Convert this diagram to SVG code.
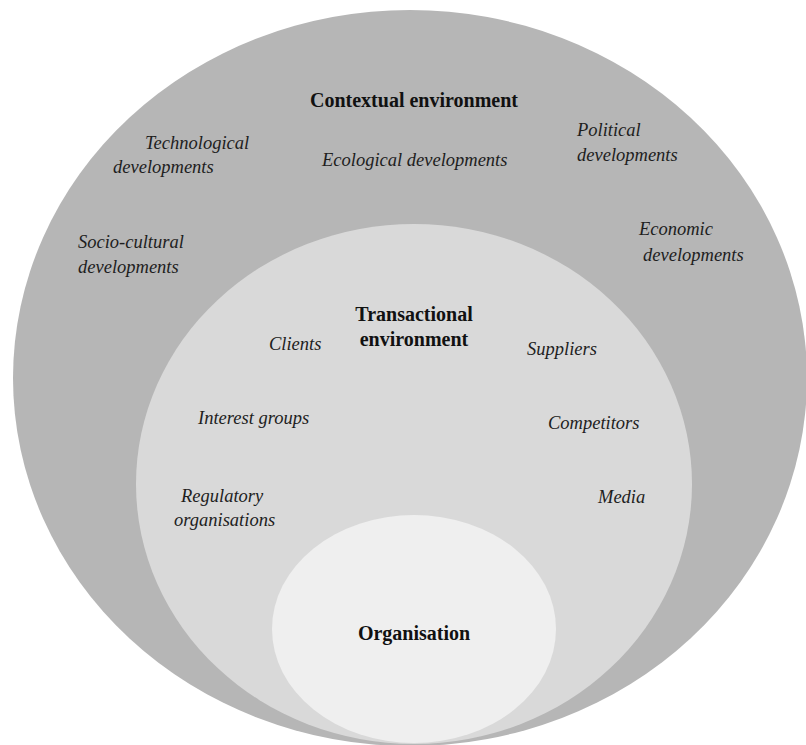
<svg xmlns="http://www.w3.org/2000/svg" width="806" height="745" viewBox="0 0 806 745">
  <style>
    .ring-outer { fill: #b6b6b6; }
    .ring-mid { fill: #d9d9d9; }
    .ring-core { fill: #efefef; }
    .title { font-family: "Liberation Serif", "Times New Roman", serif; font-weight: bold; font-size: 20px; fill: #111111; }
    .item { font-family: "Liberation Serif", "Times New Roman", serif; font-style: italic; font-size: 18.5px; fill: #1e1e1e; }
  </style>
  <rect width="806" height="745" fill="#ffffff"/>

  <!-- Contextual environment (outer layer) -->
  <g id="contextual">
    <ellipse class="ring-outer" cx="410" cy="378" rx="397" ry="368"/>
    <text class="title" x="414" y="107" text-anchor="middle">Contextual environment</text>
    <text class="item" x="145" y="149">Technological</text>
    <text class="item" x="113" y="173">developments</text>
    <text class="item" x="322" y="166">Ecological developments</text>
    <text class="item" x="577" y="136">Political</text>
    <text class="item" x="577" y="161">developments</text>
    <text class="item" x="78" y="248">Socio-cultural</text>
    <text class="item" x="78" y="273">developments</text>
    <text class="item" x="639" y="235">Economic</text>
    <text class="item" x="643" y="261">developments</text>
  </g>

  <!-- Transactional environment (middle layer) -->
  <g id="transactional">
    <ellipse class="ring-mid" cx="414" cy="484" rx="278" ry="260"/>
    <text class="title" x="414" y="321" text-anchor="middle">Transactional</text>
    <text class="title" x="414" y="346" text-anchor="middle">environment</text>
    <text class="item" x="269" y="350">Clients</text>
    <text class="item" x="527" y="355">Suppliers</text>
    <text class="item" x="198" y="424">Interest groups</text>
    <text class="item" x="548" y="429">Competitors</text>
    <text class="item" x="181" y="502">Regulatory</text>
    <text class="item" x="174" y="526">organisations</text>
    <text class="item" x="598" y="503">Media</text>
  </g>

  <!-- Organisation (core) -->
  <g id="organisation">
    <ellipse class="ring-core" cx="414" cy="629" rx="142" ry="114"/>
    <text class="title" x="414" y="640" text-anchor="middle">Organisation</text>
  </g>

  <g id="connectors"/>
</svg>
